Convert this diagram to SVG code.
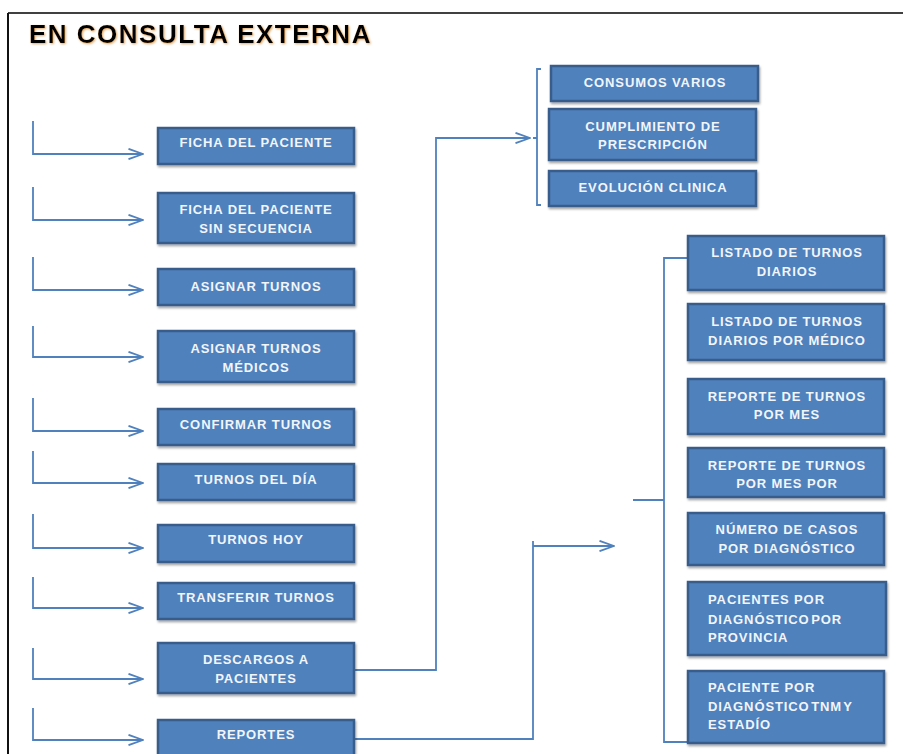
<svg xmlns="http://www.w3.org/2000/svg" width="903" height="754" viewBox="0 0 903 754">
<style>
.box{fill:#4F81BD;stroke:#385D8A;stroke-width:2.5;filter:url(#sh)}
.t{font-family:"Liberation Sans",Arial,sans-serif;font-weight:bold;font-size:13px;letter-spacing:0.9px;fill:#f2f5fa;text-anchor:middle}
.tl{text-anchor:start}
.c{fill:none;stroke:#4F81BD;stroke-width:1.8}
.title{font-family:"Liberation Sans",Arial,sans-serif;font-weight:bold;font-size:26px;letter-spacing:1.5px;fill:#000;filter:url(#glow)}
</style>
<defs>
<filter id="sh" x="-10%" y="-20%" width="120%" height="150%">
<feDropShadow dx="1" dy="2" stdDeviation="1.2" flood-color="#000" flood-opacity="0.35"/>
</filter>
<filter id="glow" x="-5%" y="-30%" width="110%" height="160%">
<feDropShadow dx="1" dy="1" stdDeviation="0.8" flood-color="#d08020" flood-opacity="0.7"/>
</filter>
<marker id="arr" viewBox="0 0 16 12" refX="15" refY="6" markerWidth="16" markerHeight="12" markerUnits="userSpaceOnUse" orient="auto">
<path d="M0.5,0.8 L15,6 L0.5,11.2" fill="none" stroke="#4F81BD" stroke-width="1.8"/>
</marker>
</defs>
<rect width="903" height="754" fill="#fff"/>
<g id="frame">
<line x1="8" y1="13" x2="903" y2="13" stroke="#404040" stroke-width="2"/>
<line x1="8" y1="13" x2="8" y2="754" stroke="#111" stroke-width="2"/>
</g>
<text class="title" x="29" y="43">EN CONSULTA EXTERNA</text>
<g id="connectors">
<path class="c" marker-end="url(#arr)" d="M33,121 V154 H143"/>
<path class="c" marker-end="url(#arr)" d="M33,187 V220 H143"/>
<path class="c" marker-end="url(#arr)" d="M33,257 V290 H143"/>
<path class="c" marker-end="url(#arr)" d="M33,326 V357 H143"/>
<path class="c" marker-end="url(#arr)" d="M33,398 V431 H143"/>
<path class="c" marker-end="url(#arr)" d="M33,451 V483 H143"/>
<path class="c" marker-end="url(#arr)" d="M33,514 V548 H143"/>
<path class="c" marker-end="url(#arr)" d="M33,577 V608 H143"/>
<path class="c" marker-end="url(#arr)" d="M33,648 V679 H143"/>
<path class="c" marker-end="url(#arr)" d="M33,708 V740 H143"/>
<path class="c" marker-end="url(#arr)" d="M354,670 H436 V138 H530"/>
<path class="c" d="M541,69 H537 V205 H541 M537,138 H533"/>
<path class="c" d="M354,739 H533 V541"/>
<path class="c" marker-end="url(#arr)" d="M533,546 H614"/>
<path class="c" d="M688,258 H664 V742 H688 M664,500 H633"/>
</g>
<g id="ficha-paciente"><rect class="box" x="158" y="128" width="196" height="36"/><text class="t" x="256" y="147">FICHA DEL PACIENTE</text></g>
<g id="ficha-sin-secuencia"><rect class="box" x="158" y="193" width="196" height="50"/><text class="t" x="256" y="214">FICHA DEL PACIENTE</text><text class="t" x="256" y="233">SIN SECUENCIA</text></g>
<g id="asignar-turnos"><rect class="box" x="158" y="269" width="196" height="36"/><text class="t" x="256" y="291">ASIGNAR TURNOS</text></g>
<g id="asignar-turnos-medicos"><rect class="box" x="158" y="331" width="196" height="51"/><text class="t" x="256" y="353">ASIGNAR TURNOS</text><text class="t" x="256" y="372">MÉDICOS</text></g>
<g id="confirmar-turnos"><rect class="box" x="158" y="409" width="196" height="36"/><text class="t" x="256" y="429">CONFIRMAR TURNOS</text></g>
<g id="turnos-del-dia"><rect class="box" x="158" y="464" width="196" height="36"/><text class="t" x="256" y="484">TURNOS DEL DÍA</text></g>
<g id="turnos-hoy"><rect class="box" x="158" y="525" width="196" height="37"/><text class="t" x="256" y="544">TURNOS HOY</text></g>
<g id="transferir-turnos"><rect class="box" x="158" y="583" width="196" height="36"/><text class="t" x="256" y="602">TRANSFERIR TURNOS</text></g>
<g id="descargos"><rect class="box" x="158" y="643" width="196" height="50"/><text class="t" x="256" y="664">DESCARGOS A</text><text class="t" x="256" y="683">PACIENTES</text></g>
<g id="reportes"><rect class="box" x="158" y="720" width="196" height="40"/><text class="t" x="256" y="739">REPORTES</text></g>
<g id="consumos-varios"><rect class="box" x="551" y="66" width="207" height="35"/><text class="t" x="655" y="87">CONSUMOS VARIOS</text></g>
<g id="cumplimiento"><rect class="box" x="549" y="109" width="207" height="51"/><text class="t" x="653" y="131">CUMPLIMIENTO DE</text><text class="t" x="653" y="149">PRESCRIPCIÓN</text></g>
<g id="evolucion"><rect class="box" x="549" y="171" width="207" height="35"/><text class="t" x="653" y="192">EVOLUCIÓN CLINICA</text></g>
<g id="listado-diarios"><rect class="box" x="688" y="236" width="196" height="54"/><text class="t" x="787" y="257">LISTADO DE TURNOS</text><text class="t" x="787" y="276">DIARIOS</text></g>
<g id="listado-medico"><rect class="box" x="688" y="304" width="196" height="56"/><text class="t" x="787" y="326">LISTADO DE TURNOS</text><text class="t" x="787" y="345">DIARIOS POR MÉDICO</text></g>
<g id="reporte-mes"><rect class="box" x="688" y="379" width="196" height="55"/><text class="t" x="787" y="401">REPORTE DE TURNOS</text><text class="t" x="787" y="419">POR MES</text></g>
<g id="reporte-mes-por"><rect class="box" x="688" y="448" width="196" height="49"/><text class="t" x="787" y="470">REPORTE DE TURNOS</text><text class="t" x="787" y="488">POR MES POR</text></g>
<g id="numero-casos"><rect class="box" x="688" y="513" width="196" height="52"/><text class="t" x="787" y="534">NÚMERO DE CASOS</text><text class="t" x="787" y="553">POR DIAGNÓSTICO</text></g>
<g id="pacientes-provincia"><rect class="box" x="688" y="582" width="198" height="73"/><text class="t tl" x="708" y="604">PACIENTES POR</text><text class="t tl" x="708" y="624" word-spacing="-3">DIAGNÓSTICO POR</text><text class="t tl" x="708" y="642">PROVINCIA</text></g>
<g id="paciente-tnm"><rect class="box" x="688" y="671" width="196" height="72"/><text class="t tl" x="708" y="692">PACIENTE POR</text><text class="t tl" x="708" y="711" word-spacing="-3">DIAGNÓSTICO TNM Y</text><text class="t tl" x="708" y="729">ESTADÍO</text></g>
</svg>
